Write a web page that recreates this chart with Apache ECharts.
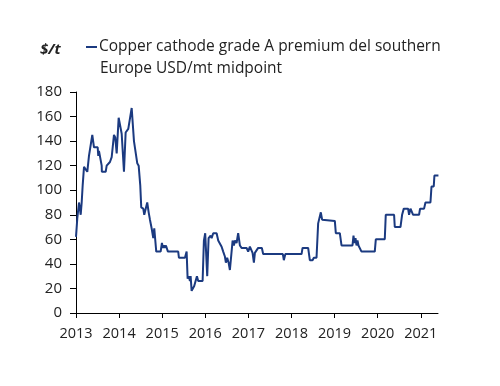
<!DOCTYPE html>
<html>
<head>
<meta charset="utf-8">
<script src="https://cdn.jsdelivr.net/npm/echarts@6/dist/echarts.min.js"></script>
<style>html,body{margin:0;padding:0;background:#fff}#c{width:500px;height:386px}</style>
</head>
<body>
<div id="c"></div>
<script>
// Decimal-year time stamps and USD/t values
const years = [
  2013.000,2013.030,2013.070,2013.109,2013.132,2013.155,2013.186,2013.225,2013.262,2013.301,
  2013.378,2013.417,2013.503,2013.517,2013.533,2013.596,2013.600,2013.689,2013.712,2013.788,
  2013.828,2013.881,2013.911,2013.944,2013.990,2014.020,2014.060,2014.113,2014.152,2014.213,
  2014.236,2014.292,2014.345,2014.375,2014.421,2014.454,2014.491,2014.514,2014.561,2014.584,
  2014.623,2014.653,2014.686,2014.716,2014.755,2014.786,2014.793,2014.816,2014.848,2014.862,
  2014.964,2014.994,2015.017,2015.041,2015.064,2015.087,2015.117,2015.133,2015.372,2015.388,
  2015.528,2015.567,2015.590,2015.620,2015.643,2015.660,2015.683,2015.720,2015.743,2015.783,
  2015.806,2015.836,2015.938,2015.968,2015.998,2016.045,2016.077,2016.123,2016.147,2016.184,
  2016.263,2016.300,2016.339,2016.379,2016.416,2016.455,2016.478,2016.508,2016.541,2016.571,
  2016.610,2016.634,2016.664,2016.687,2016.726,2016.763,2016.803,2016.842,2016.958,2016.995,
  2017.035,2017.074,2017.097,2017.128,2017.151,2017.190,2017.227,2017.313,2017.343,2017.800,
  2017.823,2017.858,2018.234,2018.257,2018.387,2018.426,2018.489,2018.519,2018.581,2018.619,
  2018.658,2018.681,2018.711,2019.006,2019.029,2019.122,2019.161,2019.416,2019.439,2019.462,
  2019.486,2019.509,2019.532,2019.555,2019.586,2019.625,2019.933,2019.957,2020.165,2020.188,
  2020.381,2020.397,2020.529,2020.567,2020.606,2020.706,2020.729,2020.762,2020.799,2020.822,
  2020.961,2020.984,2021.077,2021.109,2021.225,2021.249,2021.301,2021.317,2021.410
];
const premium = [
  62,77,90,80,90,104,119,120,115,128,
  145,135,135,128,132,120,115,115,120,123,
  127,145,143,130,159,159,146,115,147,150,
  150,167,140,139,122,120,104,86,85,80,
  80,90,82,76,69,69,61,69,69,50,
  50,57,53,55,53,55,55,50,50,45,
  45,50,28,30,26,30,18,18,22,23,
  30,26,26,59,65,30,61,63,61,65,
  65,59,59,54,50,46,41,45,41,35,
  35,59,55,59,57,65,55,53,53,50,
  54,55,49,41,49,50,53,53,48,48,
  43,48,48,53,53,43,43,45,45,73,
  74,82,76,75,65,65,55,55,63,57,
  61,55,59,55,55,50,50,60,60,80,
  80,70,70,80,85,85,80,85,85,80,
  80,85,85,90,90,103,103,112,112
];
const yearTicks = [2013,2014,2015,2016,2017,2018,2019,2020,2021];
const seriesName = 'Copper cathode grade A premium del southern Europe USD/mt midpoint';
const legendLine1 = 'Copper cathode grade A premium del southern';
const legendLine2 = 'Europe USD/mt midpoint';
const unitLabel = '$/t';

const FONT = '"Open Sans", "Noto Sans", sans-serif';
const chart = echarts.init(document.getElementById('c'), null, {renderer: 'canvas'});
chart.setOption({
  animation: false,
  backgroundColor: '#ffffff',
  title: [
    {text: unitLabel, left: 35, top: 37, padding: 5, textStyle: {fontFamily: FONT, fontSize: 15, fontWeight: 'bold', fontStyle: 'italic', color: '#222'}},
    {text: legendLine2, left: 95, top: 56, padding: 5, textStyle: {fontFamily: FONT, fontSize: 15.5, fontWeight: 'normal', color: '#222'}}
  ],
  legend: {
    left: 86, top: 39, padding: 0, itemWidth: 11, itemHeight: 2, itemGap: 0, icon: 'rect',
    formatter: () => legendLine1,
    textStyle: {fontFamily: FONT, fontSize: 15.5, color: '#222', padding: [0,0,0,-3]},
    data: [seriesName]
  },
  grid: {left: 76, right: 62, top: 92, bottom: 73, containLabel: false},
  xAxis: {
    type: 'value', min: 2013, max: 2021.4,
    axisLine: {show: true, lineStyle: {color: '#000', width: 1}},
    axisTick: {show: true, length: 5, lineStyle: {color: '#000'}, customValues: yearTicks},
    axisLabel: {customValues: yearTicks, formatter: v => String(v), margin: 13, fontFamily: FONT, fontSize: 14.5, color: '#222'},
    splitLine: {show: false}
  },
  yAxis: {
    type: 'value', min: 0, max: 180, interval: 20,
    axisLine: {show: true, lineStyle: {color: '#000', width: 1}},
    axisTick: {show: true, length: 6, lineStyle: {color: '#000'}},
    axisLabel: {margin: 14, fontFamily: FONT, fontSize: 15, color: '#222'},
    splitLine: {show: false}
  },
  series: [{
    name: seriesName, type: 'line', showSymbol: false, symbol: 'none',
    lineStyle: {color: '#1B3A80', width: 2}, itemStyle: {color: '#1B3A80'},
    data: years.map((y, i) => [y, premium[i]])
  }]
});
</script>
</body>
</html>
